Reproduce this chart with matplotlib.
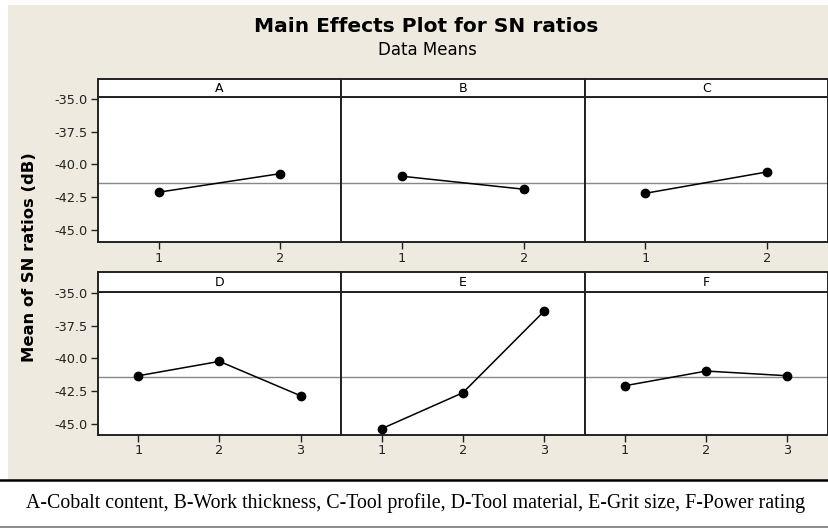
import matplotlib.pyplot as plt
import matplotlib.patches as patches

plt.rcParams['axes.unicode_minus'] = False
plt.rcParams['font.family'] = 'DejaVu Sans'

# factor names and mean S/N ratio (dB) at each level
factors = ['A', 'B', 'C', 'D', 'E', 'F']
sn_A = [-42.12, -40.70]
sn_B = [-40.90, -41.89]
sn_C = [-42.20, -40.57]
sn_D = [-41.33, -40.23, -42.86]
sn_E = [-45.38, -42.63, -36.40]
sn_F = [-42.09, -40.97, -41.33]
grand_mean = -41.40
y_ticks = [-35.0, -37.5, -40.0, -42.5, -45.0]
caption = ('A-Cobalt content, B-Work thickness, C-Tool profile, '
           'D-Tool material, E-Grit size, F-Power rating')

values = [sn_A, sn_B, sn_C, sn_D, sn_E, sn_F]

W, H = 829, 528
fig = plt.figure(figsize=(W / 100, H / 100), dpi=100)
fig.patch.set_facecolor('white')

bg = '#eeeae0'
fig.patches.append(patches.Rectangle((8 / W, (H - 480) / H), 1 - 8 / W, (480 - 5) / H,
                                     transform=fig.transFigure, facecolor=bg,
                                     edgecolor='none', zorder=-5))
# caption box lines
fig.add_artist(plt.Line2D([0, 1], [(H - 480) / H] * 2, color='black', lw=1.8,
                          transform=fig.transFigure))
fig.add_artist(plt.Line2D([0, 1], [(H - 527) / H] * 2, color='#777777', lw=1.2,
                          transform=fig.transFigure))

fig.text(426 / W, 1 - 26 / H, 'Main Effects Plot for SN ratios', ha='center',
         va='center', fontsize=14.5, fontweight='bold')
fig.text(427 / W, 1 - 50 / H, 'Data Means', ha='center', va='center', fontsize=12)
fig.text(30 / W, 1 - 257 / H, 'Mean of SN ratios (dB)', ha='center', va='center',
         rotation=90, fontsize=11.8, fontweight='bold')
fig.text(416 / W, 1 - 503 / H, caption, ha='center', va='center', fontsize=14.3,
         family='Liberation Serif')

x0 = 97.7
pw = (828 - x0) / 3
rows = [
    # strip top, data top, data bottom (px), ylim
    (79, 97, 242, (-45.92, -34.85)),
    (272, 292, 434.7, (-45.84, -34.92)),
]

for i, (name, vals) in enumerate(zip(factors, values)):
    r, c = divmod(i, 3)
    st, dt, db, ylim = rows[r]
    left = (x0 + c * pw) / W
    ax = fig.add_axes([left, (H - db) / H, pw / W, (db - dt) / H])
    sx = fig.add_axes([left, (H - dt) / H, pw / W, (dt - st) / H])

    levels = list(range(1, len(vals) + 1))
    ax.axhline(grand_mean, color='#888888', lw=1.0, zorder=1)
    ax.plot(levels, vals, color='black', lw=1.1, marker='o', markersize=6, zorder=3)
    ax.set_xlim(0.5, len(vals) + 0.5)
    ax.set_ylim(*ylim)
    ax.set_xticks(levels)
    ax.set_yticks(y_ticks)
    ax.tick_params(axis='both', direction='out', length=5, width=1, pad=2,
                   labelsize=9.3, colors='#222222')
    if c == 0:
        ax.set_yticklabels(['%.1f' % v for v in y_ticks])
    else:
        ax.tick_params(axis='y', left=False, labelleft=False)
    for s in ax.spines.values():
        s.set_color('#222222')
        s.set_linewidth(1.4)

    sx.set_xticks([])
    sx.set_yticks([])
    sx.text(0.5, 0.45, name, ha='center', va='center', fontsize=9,
            transform=sx.transAxes)
    for s in sx.spines.values():
        s.set_color('#222222')
        s.set_linewidth(1.4)

fig.savefig('out.png', dpi=100, facecolor='white')
